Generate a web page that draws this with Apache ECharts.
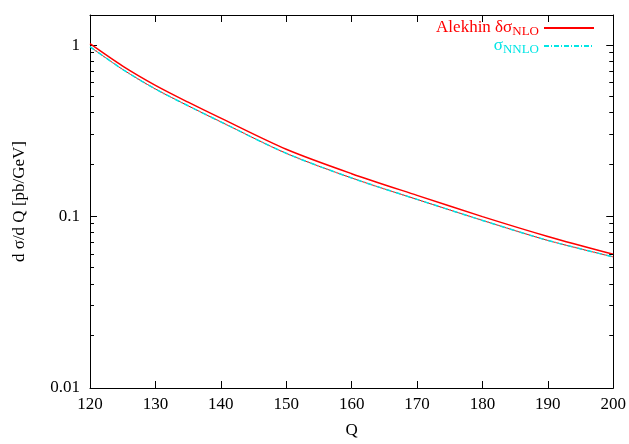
<!DOCTYPE html>
<html>
<head>
<meta charset="utf-8">
<script src="https://cdn.jsdelivr.net/npm/echarts@6/dist/echarts.min.js"></script>
<style>
html,body{margin:0;padding:0;background:#fff;}
#c{width:629px;height:444px;}
</style>
</head>
<body>
<div id="c"></div>
<script>
// Data
const qValues = [120, 125, 130, 135, 140, 150, 160, 170, 180, 190, 200];
const alekhinNLO = [1.02, 0.755, 0.583, 0.465, 0.375, 0.247, 0.178, 0.133, 0.100, 0.0766, 0.0603];
const sigmaNNLO  = [0.98, 0.722, 0.555, 0.443, 0.357, 0.234, 0.168, 0.126, 0.095, 0.0726, 0.0582];
const xTicks = [120, 130, 140, 150, 160, 170, 180, 190, 200];
const yMajorTicks = [0.01, 0.1, 1];
const yMinorTicks = [0.02, 0.03, 0.04, 0.05, 0.06, 0.07, 0.08, 0.09,
                     0.2, 0.3, 0.4, 0.5, 0.6, 0.7, 0.8, 0.9];

const FONT = 'Liberation Serif';
const RED = '#ff0000';
const CYAN = '#00e5e5';
const X_MIN = xTicks[0];
const X_MAX = xTicks[xTicks.length - 1];

function pairs(ys) { return qValues.map((q, i) => [q, ys[i]]); }

const chart = echarts.init(document.getElementById('c'), null, {renderer: 'canvas'});

function xAxisDef(pos, extra) {
  return Object.assign({
    type: 'value', position: pos, gridIndex: 0,
    min: X_MIN, max: X_MAX, interval: 10,
    axisLine: {show: true, onZero: false, lineStyle: {color: '#000', width: 1}},
    axisTick: {show: true, inside: true, length: 7, lineStyle: {color: '#000', width: 1}},
    splitLine: {show: false}
  }, extra);
}
function yAxisDef(pos, extra) {
  return Object.assign({
    type: 'log', logBase: 10, position: pos, gridIndex: 0,
    min: 0.01, max: 1.5,
    axisLine: {show: true, onZero: false, lineStyle: {color: '#000', width: 1}},
    axisTick: {show: true, inside: true, length: 7, lineStyle: {color: '#000', width: 1}},
    splitLine: {show: false}
  }, extra);
}
function fmtName(name) {
  const m = name.match(/^(.*?)_(\w+)$/);
  if (!m) return '{m|' + name + '}';
  return '{m|' + m[1] + '}{s|' + m[2] + '}';
}

chart.setOption({
  animation: false,
  backgroundColor: '#fff',
  grid: {left: 90, right: 13, top: 15, bottom: 52},
  legend: {
    orient: 'vertical', right: 34, top: 18, align: 'right', padding: 0,
    itemWidth: 50, itemHeight: 8, itemGap: -2,
    itemStyle: {opacity: 0},
    formatter: fmtName,
    textStyle: {fontFamily: FONT, fontSize: 17,
      rich: {m: {fontFamily: FONT, fontSize: 17, lineHeight: 18},
             s: {fontFamily: FONT, fontSize: 13, lineHeight: 18, padding: [7, 0, 0, 0]}}},
    data: [
      {name: 'Alekhin δσ_NLO', textStyle: {color: RED, rich: {m: {color: RED}, s: {color: RED}}}},
      {name: 'σ_NNLO', textStyle: {color: CYAN, rich: {m: {color: CYAN}, s: {color: CYAN}}}}
    ]
  },
  xAxis: [xAxisDef('bottom', {
      name: 'Q', nameLocation: 'middle', nameGap: 34,
      nameTextStyle: {fontFamily: FONT, fontSize: 17, color: '#000'},
      axisLabel: {fontFamily: FONT, fontSize: 17, color: '#000', margin: 8}}),
    xAxisDef('top', {axisLabel: {show: false}})],
  yAxis: [yAxisDef('left', {
      name: 'd σ/d Q [pb/GeV]', nameLocation: 'middle', nameGap: 62, nameRotate: 90,
      nameTextStyle: {fontFamily: FONT, fontSize: 17, color: '#000'},
      axisLabel: {fontFamily: FONT, fontSize: 17, color: '#000', margin: 10, showMaxLabel: false,
                  formatter: v => (yMajorTicks.some(t => Math.abs(t - v) / t < 1e-6) ? String(v) : '')}}),
    yAxisDef('right', {axisLabel: {show: false}})],
  series: [
    {name: 'σ_NLO_hidden', type: 'line', data: pairs(sigmaNNLO), symbol: 'none', smooth: 0.3, silent: true,
     itemStyle: {color: RED}, lineStyle: {color: RED, width: 1}, z: 2},
    {name: 'σ_NNLO', type: 'line', data: pairs(sigmaNNLO), symbol: 'none', smooth: 0.3,
     itemStyle: {color: CYAN}, lineStyle: {color: CYAN, width: 1.5, type: [5, 2, 1, 2]}, z: 3},
    {name: 'Alekhin δσ_NLO', type: 'line', data: pairs(alekhinNLO), symbol: 'none', smooth: 0.3,
     itemStyle: {color: RED}, lineStyle: {color: RED, width: 1.5}, z: 4},
    {
      name: 'minorTicks', type: 'custom', silent: true,
      data: yMinorTicks.map(v => [X_MIN, v]).concat(yMinorTicks.map(v => [X_MAX, v])),
      renderItem: function (params, api) {
        const xv = api.value(0);
        const p = api.coord([xv, api.value(1)]);
        const x0 = xv === X_MIN ? p[0] : p[0] - 4;
        return {type: 'rect', shape: {x: x0, y: Math.round(p[1]) - 1, width: 4, height: 1}, style: {fill: '#000'}};
      }, z: 5
    }
  ]
});
</script>
</body>
</html>
